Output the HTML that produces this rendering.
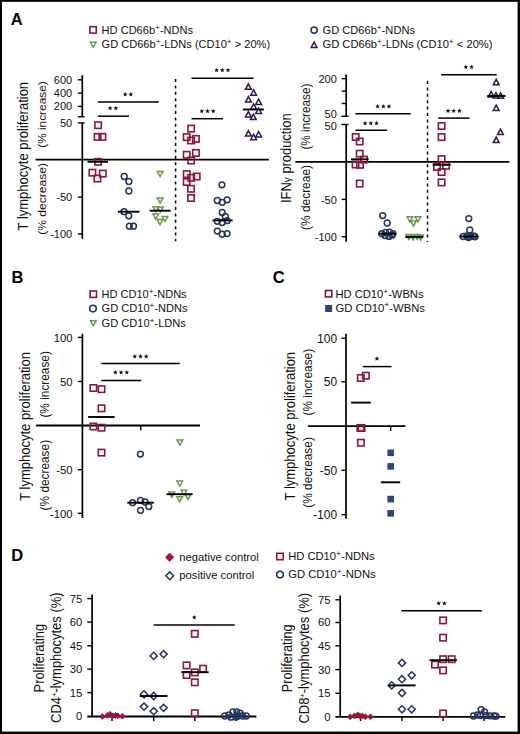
<!DOCTYPE html>
<html><head><meta charset="utf-8"><style>
html,body{margin:0;padding:0;background:#fff;}
svg{display:block;}
text{font-family:"Liberation Sans", sans-serif;}
</style></head><body>
<svg width="520" height="734" viewBox="0 0 520 734">
<rect width="520" height="734" fill="#fff"/>
<rect x="0" y="0" width="520" height="1.8" fill="#000"/><rect x="0" y="0" width="2" height="734" fill="#000"/><rect x="517.6" y="0" width="2.4" height="734" fill="#000"/><rect x="0" y="731.6" width="520" height="2.4" fill="#000"/>
<text x="10.8" y="25.2" font-size="16.5" font-weight="bold" text-anchor="start" fill="#000" >A</text>
<rect x="89.9" y="26.7" width="6.4" height="6.4" fill="none" stroke="#8a1738" stroke-width="1.6"/>
<text x="101.6" y="33.8" font-size="10.7" font-weight="normal" text-anchor="start" fill="#111" textLength="91.5" lengthAdjust="spacingAndGlyphs" >HD CD66b<tspan font-size="8" dy="-4.2">+</tspan><tspan dy="4.2">-NDNs</tspan></text>
<polygon points="90.4,42.3 96,42.3 93.2,47.3" fill="none" stroke="#67984a" stroke-width="1.5" stroke-linejoin="miter"/>
<text x="101.6" y="48.3" font-size="10.7" font-weight="normal" text-anchor="start" fill="#111" textLength="168.5" lengthAdjust="spacingAndGlyphs" >GD CD66b<tspan font-size="8" dy="-4.2">+</tspan><tspan dy="4.2">-LDNs (CD10</tspan><tspan font-size="8" dy="-4.2">+</tspan><tspan dy="4.2"> &gt; 20%)</tspan></text>
<circle cx="314.1" cy="30.1" r="3.1" fill="none" stroke="#22365e" stroke-width="1.6"/>
<text x="322.5" y="33.8" font-size="10.7" font-weight="normal" text-anchor="start" fill="#111" textLength="92.5" lengthAdjust="spacingAndGlyphs" >GD CD66b<tspan font-size="8" dy="-4.2">+</tspan><tspan dy="4.2">-NDNs</tspan></text>
<polygon points="311.2,47.5 317,47.5 314.1,42.1" fill="none" stroke="#33194f" stroke-width="1.5" stroke-linejoin="miter"/>
<text x="322.5" y="48.3" font-size="10.7" font-weight="normal" text-anchor="start" fill="#111" textLength="170" lengthAdjust="spacingAndGlyphs" >GD CD66b<tspan font-size="8" dy="-4.2">+</tspan><tspan dy="4.2">-LDNs (CD10</tspan><tspan font-size="8" dy="-4.2">+</tspan><tspan dy="4.2"> &lt; 20%)</tspan></text>
<text transform="translate(27.5,230.4) rotate(-90)" font-size="14" text-anchor="start" fill="#111" textLength="148.5" lengthAdjust="spacingAndGlyphs">T lymphocyte proliferation</text>
<text transform="translate(46.2,147.8) rotate(-90)" font-size="11.7" text-anchor="start" fill="#111" textLength="66.5" lengthAdjust="spacingAndGlyphs">(% increase)</text>
<text transform="translate(46.2,234.8) rotate(-90)" font-size="11.7" text-anchor="start" fill="#111" textLength="71.8" lengthAdjust="spacingAndGlyphs">(% decrease)</text>
<line x1="82.3" y1="75.2" x2="82.3" y2="116.8" stroke="#000" stroke-width="1.7" />
<line x1="82.3" y1="122.9" x2="82.3" y2="238.8" stroke="#000" stroke-width="1.7" />
<line x1="77.8" y1="79.8" x2="82.3" y2="79.8" stroke="#000" stroke-width="1.4" />
<line x1="77.8" y1="93.1" x2="82.3" y2="93.1" stroke="#000" stroke-width="1.4" />
<line x1="77.8" y1="106.4" x2="82.3" y2="106.4" stroke="#000" stroke-width="1.4" />
<line x1="77.9" y1="116.8" x2="84.6" y2="116.8" stroke="#000" stroke-width="1.4" />
<line x1="77.9" y1="122.9" x2="84.6" y2="122.9" stroke="#000" stroke-width="1.4" />
<line x1="77.8" y1="197.1" x2="82.3" y2="197.1" stroke="#000" stroke-width="1.4" />
<line x1="77.8" y1="234" x2="82.3" y2="234" stroke="#000" stroke-width="1.4" />
<text x="72.2" y="83.56" font-size="11" font-weight="normal" text-anchor="end" fill="#111" >600</text>
<text x="72.2" y="96.86" font-size="11" font-weight="normal" text-anchor="end" fill="#111" >400</text>
<text x="72.2" y="110.36" font-size="11" font-weight="normal" text-anchor="end" fill="#111" >200</text>
<text x="72.2" y="126.76" font-size="11" font-weight="normal" text-anchor="end" fill="#111" >50</text>
<text x="72.2" y="201.16" font-size="11" font-weight="normal" text-anchor="end" fill="#111" >-50</text>
<text x="72.2" y="237.96" font-size="11" font-weight="normal" text-anchor="end" fill="#111" >-100</text>
<line x1="35.6" y1="159.7" x2="268.9" y2="159.7" stroke="#000" stroke-width="1.8" />
<line x1="175.6" y1="79" x2="175.6" y2="241.2" stroke="#000" stroke-width="1.5" stroke-dasharray="3 3.4"/>
<line x1="97.9" y1="101.9" x2="158.8" y2="101.9" stroke="#000" stroke-width="1.5" />
<polygon points="125.15,91.9 125.8,93.51 127.53,93.63 126.2,94.74 126.62,96.42 125.15,95.5 123.68,96.42 124.1,94.74 122.77,93.63 124.5,93.51" fill="#111"/>
<polygon points="130.85,91.9 131.5,93.51 133.23,93.63 131.9,94.74 132.32,96.42 130.85,95.5 129.38,96.42 129.8,94.74 128.47,93.63 130.2,93.51" fill="#111"/>
<line x1="97.9" y1="116.2" x2="129" y2="116.2" stroke="#000" stroke-width="1.5" />
<polygon points="110.15,105.7 110.8,107.31 112.53,107.43 111.2,108.54 111.62,110.22 110.15,109.3 108.68,110.22 109.1,108.54 107.77,107.43 109.5,107.31" fill="#111"/>
<polygon points="115.85,105.7 116.5,107.31 118.23,107.43 116.9,108.54 117.32,110.22 115.85,109.3 114.38,110.22 114.8,108.54 113.47,107.43 115.2,107.31" fill="#111"/>
<line x1="191.5" y1="78.2" x2="253.6" y2="78.2" stroke="#000" stroke-width="1.5" />
<polygon points="216.6,67.7 217.25,69.31 218.98,69.43 217.65,70.54 218.07,72.22 216.6,71.3 215.13,72.22 215.55,70.54 214.22,69.43 215.95,69.31" fill="#111"/>
<polygon points="222.3,67.7 222.95,69.31 224.68,69.43 223.35,70.54 223.77,72.22 222.3,71.3 220.83,72.22 221.25,70.54 219.92,69.43 221.65,69.31" fill="#111"/>
<polygon points="228,67.7 228.65,69.31 230.38,69.43 229.05,70.54 229.47,72.22 228,71.3 226.53,72.22 226.95,70.54 225.62,69.43 227.35,69.31" fill="#111"/>
<line x1="191.5" y1="118.7" x2="222.9" y2="118.7" stroke="#000" stroke-width="1.5" />
<polygon points="201.8,108.7 202.45,110.31 204.18,110.43 202.85,111.54 203.27,113.22 201.8,112.3 200.33,113.22 200.75,111.54 199.42,110.43 201.15,110.31" fill="#111"/>
<polygon points="207.5,108.7 208.15,110.31 209.88,110.43 208.55,111.54 208.97,113.22 207.5,112.3 206.03,113.22 206.45,111.54 205.12,110.43 206.85,110.31" fill="#111"/>
<polygon points="213.2,108.7 213.85,110.31 215.58,110.43 214.25,111.54 214.67,113.22 213.2,112.3 211.73,113.22 212.15,111.54 210.82,110.43 212.55,110.31" fill="#111"/>
<rect x="94.9" y="122" width="6.4" height="6.4" fill="none" stroke="#8a1738" stroke-width="1.6"/>
<rect x="94.4" y="133.7" width="6.4" height="6.4" fill="none" stroke="#8a1738" stroke-width="1.6"/>
<rect x="99.2" y="133.7" width="6.4" height="6.4" fill="none" stroke="#8a1738" stroke-width="1.6"/>
<rect x="94.9" y="158.6" width="6.4" height="6.4" fill="none" stroke="#8a1738" stroke-width="1.6"/>
<rect x="89.2" y="169.5" width="6.4" height="6.4" fill="none" stroke="#8a1738" stroke-width="1.6"/>
<rect x="99.6" y="170.4" width="6.4" height="6.4" fill="none" stroke="#8a1738" stroke-width="1.6"/>
<rect x="94.2" y="175.3" width="6.4" height="6.4" fill="none" stroke="#8a1738" stroke-width="1.6"/>
<line x1="87.5" y1="161.8" x2="108" y2="161.8" stroke="#000" stroke-width="1.9" />
<circle cx="124.2" cy="176.5" r="2.9" fill="none" stroke="#22365e" stroke-width="1.5"/>
<circle cx="128.9" cy="181.5" r="2.9" fill="none" stroke="#22365e" stroke-width="1.5"/>
<circle cx="128.9" cy="191" r="2.9" fill="none" stroke="#22365e" stroke-width="1.5"/>
<circle cx="124" cy="211.7" r="2.9" fill="none" stroke="#22365e" stroke-width="1.5"/>
<circle cx="128.8" cy="215.8" r="2.9" fill="none" stroke="#22365e" stroke-width="1.5"/>
<circle cx="129.4" cy="226.2" r="2.9" fill="none" stroke="#22365e" stroke-width="1.5"/>
<circle cx="133.5" cy="226.2" r="2.9" fill="none" stroke="#22365e" stroke-width="1.5"/>
<line x1="117.9" y1="211.7" x2="139.5" y2="211.7" stroke="#000" stroke-width="1.9" />
<polygon points="157.3,171.5 162.9,171.5 160.1,176.5" fill="none" stroke="#67984a" stroke-width="1.5" stroke-linejoin="miter"/>
<polygon points="157.3,198.1 162.9,198.1 160.1,203.1" fill="none" stroke="#67984a" stroke-width="1.5" stroke-linejoin="miter"/>
<polygon points="153,206.7 158.6,206.7 155.8,211.7" fill="none" stroke="#67984a" stroke-width="1.5" stroke-linejoin="miter"/>
<polygon points="157.5,206.9 163.1,206.9 160.3,211.9" fill="none" stroke="#67984a" stroke-width="1.5" stroke-linejoin="miter"/>
<polygon points="153,214.1 158.6,214.1 155.8,219.1" fill="none" stroke="#67984a" stroke-width="1.5" stroke-linejoin="miter"/>
<polygon points="162.2,216.5 167.8,216.5 165,221.5" fill="none" stroke="#67984a" stroke-width="1.5" stroke-linejoin="miter"/>
<polygon points="157.2,219.6 162.8,219.6 160,224.6" fill="none" stroke="#67984a" stroke-width="1.5" stroke-linejoin="miter"/>
<line x1="149.6" y1="210.7" x2="170.6" y2="210.7" stroke="#000" stroke-width="1.9" />
<rect x="187.9" y="125.4" width="6.4" height="6.4" fill="none" stroke="#8a1738" stroke-width="1.6"/>
<rect x="183.5" y="133.9" width="6.4" height="6.4" fill="none" stroke="#8a1738" stroke-width="1.6"/>
<rect x="187.9" y="137.3" width="6.4" height="6.4" fill="none" stroke="#8a1738" stroke-width="1.6"/>
<rect x="192.7" y="135.7" width="6.4" height="6.4" fill="none" stroke="#8a1738" stroke-width="1.6"/>
<rect x="183.5" y="151.6" width="6.4" height="6.4" fill="none" stroke="#8a1738" stroke-width="1.6"/>
<rect x="192.7" y="149.7" width="6.4" height="6.4" fill="none" stroke="#8a1738" stroke-width="1.6"/>
<rect x="187.9" y="157.3" width="6.4" height="6.4" fill="none" stroke="#8a1738" stroke-width="1.6"/>
<rect x="183.5" y="170.9" width="6.4" height="6.4" fill="none" stroke="#8a1738" stroke-width="1.6"/>
<rect x="193.5" y="173.3" width="6.4" height="6.4" fill="none" stroke="#8a1738" stroke-width="1.6"/>
<rect x="188" y="174.6" width="6.4" height="6.4" fill="none" stroke="#8a1738" stroke-width="1.6"/>
<rect x="183.5" y="178.8" width="6.4" height="6.4" fill="none" stroke="#8a1738" stroke-width="1.6"/>
<rect x="187.8" y="185.6" width="6.4" height="6.4" fill="none" stroke="#8a1738" stroke-width="1.6"/>
<rect x="187.8" y="194.8" width="6.4" height="6.4" fill="none" stroke="#8a1738" stroke-width="1.6"/>
<line x1="181" y1="165" x2="201.5" y2="165" stroke="#8a1738" stroke-width="1.6" stroke-opacity="0"/>
<circle cx="221.9" cy="184.8" r="2.9" fill="none" stroke="#22365e" stroke-width="1.5"/>
<circle cx="217.3" cy="200.5" r="2.9" fill="none" stroke="#22365e" stroke-width="1.5"/>
<circle cx="222.2" cy="202.3" r="2.9" fill="none" stroke="#22365e" stroke-width="1.5"/>
<circle cx="227.1" cy="199.8" r="2.9" fill="none" stroke="#22365e" stroke-width="1.5"/>
<circle cx="222.2" cy="212.5" r="2.9" fill="none" stroke="#22365e" stroke-width="1.5"/>
<circle cx="225.3" cy="216.4" r="2.9" fill="none" stroke="#22365e" stroke-width="1.5"/>
<circle cx="217.3" cy="221.3" r="2.9" fill="none" stroke="#22365e" stroke-width="1.5"/>
<circle cx="222.2" cy="222.5" r="2.9" fill="none" stroke="#22365e" stroke-width="1.5"/>
<circle cx="227.1" cy="220.7" r="2.9" fill="none" stroke="#22365e" stroke-width="1.5"/>
<circle cx="217.3" cy="231.1" r="2.9" fill="none" stroke="#22365e" stroke-width="1.5"/>
<circle cx="222.2" cy="234.2" r="2.9" fill="none" stroke="#22365e" stroke-width="1.5"/>
<circle cx="227.1" cy="233.6" r="2.9" fill="none" stroke="#22365e" stroke-width="1.5"/>
<line x1="212.4" y1="220.4" x2="232.6" y2="220.4" stroke="#000" stroke-width="1.9" />
<polygon points="245.5,89.3 251.3,89.3 248.4,83.9" fill="none" stroke="#33194f" stroke-width="1.5" stroke-linejoin="miter"/>
<polygon points="250.7,95.2 256.5,95.2 253.6,89.8" fill="none" stroke="#33194f" stroke-width="1.5" stroke-linejoin="miter"/>
<polygon points="245.5,102.1 251.3,102.1 248.4,96.7" fill="none" stroke="#33194f" stroke-width="1.5" stroke-linejoin="miter"/>
<polygon points="255.7,104.6 261.5,104.6 258.6,99.2" fill="none" stroke="#33194f" stroke-width="1.5" stroke-linejoin="miter"/>
<polygon points="250.7,109.2 256.5,109.2 253.6,103.8" fill="none" stroke="#33194f" stroke-width="1.5" stroke-linejoin="miter"/>
<polygon points="255.7,113.4 261.5,113.4 258.6,108" fill="none" stroke="#33194f" stroke-width="1.5" stroke-linejoin="miter"/>
<polygon points="245.5,117 251.3,117 248.4,111.6" fill="none" stroke="#33194f" stroke-width="1.5" stroke-linejoin="miter"/>
<polygon points="250.4,119.6 256.2,119.6 253.3,114.2" fill="none" stroke="#33194f" stroke-width="1.5" stroke-linejoin="miter"/>
<polygon points="245.5,136.1 251.3,136.1 248.4,130.7" fill="none" stroke="#33194f" stroke-width="1.5" stroke-linejoin="miter"/>
<polygon points="250.7,139.7 256.5,139.7 253.6,134.3" fill="none" stroke="#33194f" stroke-width="1.5" stroke-linejoin="miter"/>
<polygon points="255.7,137 261.5,137 258.6,131.6" fill="none" stroke="#33194f" stroke-width="1.5" stroke-linejoin="miter"/>
<line x1="242.9" y1="109.5" x2="263.9" y2="109.5" stroke="#000" stroke-width="1.9" />
<text transform="translate(291.4,203) rotate(-90)" font-size="14" text-anchor="start" fill="#111" textLength="89.6" lengthAdjust="spacingAndGlyphs">IFN<tspan font-size="11">&#947;</tspan> production</text>
<text transform="translate(309.7,149.6) rotate(-90)" font-size="11.9" text-anchor="start" fill="#111" textLength="66" lengthAdjust="spacingAndGlyphs">(% increase)</text>
<text transform="translate(309.7,230) rotate(-90)" font-size="11.9" text-anchor="start" fill="#111" textLength="65" lengthAdjust="spacingAndGlyphs">(% decreae)</text>
<line x1="346.2" y1="74.4" x2="346.2" y2="116.3" stroke="#000" stroke-width="1.7" />
<line x1="346.2" y1="124.5" x2="346.2" y2="241.7" stroke="#000" stroke-width="1.7" />
<line x1="341.7" y1="78.7" x2="346.2" y2="78.7" stroke="#000" stroke-width="1.4" />
<line x1="341.7" y1="91.1" x2="346.2" y2="91.1" stroke="#000" stroke-width="1.4" />
<line x1="341.7" y1="103.5" x2="346.2" y2="103.5" stroke="#000" stroke-width="1.4" />
<line x1="341.4" y1="116.3" x2="348.5" y2="116.3" stroke="#000" stroke-width="1.4" />
<line x1="341.4" y1="124.5" x2="348.5" y2="124.5" stroke="#000" stroke-width="1.4" />
<line x1="341.7" y1="199.4" x2="346.2" y2="199.4" stroke="#000" stroke-width="1.4" />
<line x1="341.7" y1="236.8" x2="346.2" y2="236.8" stroke="#000" stroke-width="1.4" />
<text x="336.8" y="82.86" font-size="11" font-weight="normal" text-anchor="end" fill="#111" >200</text>
<text x="336.8" y="117.66" font-size="11" font-weight="normal" text-anchor="end" fill="#111" >50</text>
<text x="336.8" y="130.26" font-size="11" font-weight="normal" text-anchor="end" fill="#111" >50</text>
<text x="336.8" y="203.56" font-size="11" font-weight="normal" text-anchor="end" fill="#111" >-50</text>
<text x="336.8" y="240.76" font-size="11" font-weight="normal" text-anchor="end" fill="#111" >-100</text>
<line x1="295.4" y1="161.8" x2="509.4" y2="161.8" stroke="#000" stroke-width="1.8" />
<line x1="427.5" y1="81" x2="427.5" y2="242" stroke="#000" stroke-width="1.5" stroke-dasharray="3 3.4"/>
<line x1="355.5" y1="113.8" x2="410.8" y2="113.8" stroke="#000" stroke-width="1.5" />
<polygon points="377.6,103.9 378.25,105.51 379.98,105.63 378.65,106.74 379.07,108.42 377.6,107.5 376.13,108.42 376.55,106.74 375.22,105.63 376.95,105.51" fill="#111"/>
<polygon points="383.3,103.9 383.95,105.51 385.68,105.63 384.35,106.74 384.77,108.42 383.3,107.5 381.83,108.42 382.25,106.74 380.92,105.63 382.65,105.51" fill="#111"/>
<polygon points="389,103.9 389.65,105.51 391.38,105.63 390.05,106.74 390.47,108.42 389,107.5 387.53,108.42 387.95,106.74 386.62,105.63 388.35,105.51" fill="#111"/>
<line x1="355.6" y1="130.3" x2="387.1" y2="130.3" stroke="#000" stroke-width="1.5" />
<polygon points="365.1,120.8 365.75,122.41 367.48,122.53 366.15,123.64 366.57,125.32 365.1,124.4 363.63,125.32 364.05,123.64 362.72,122.53 364.45,122.41" fill="#111"/>
<polygon points="370.8,120.8 371.45,122.41 373.18,122.53 371.85,123.64 372.27,125.32 370.8,124.4 369.33,125.32 369.75,123.64 368.42,122.53 370.15,122.41" fill="#111"/>
<polygon points="376.5,120.8 377.15,122.41 378.88,122.53 377.55,123.64 377.97,125.32 376.5,124.4 375.03,125.32 375.45,123.64 374.12,122.53 375.85,122.41" fill="#111"/>
<line x1="441.2" y1="74.7" x2="496.7" y2="74.7" stroke="#000" stroke-width="1.5" />
<polygon points="465.85,64.6 466.5,66.21 468.23,66.33 466.9,67.44 467.32,69.12 465.85,68.2 464.38,69.12 464.8,67.44 463.47,66.33 465.2,66.21" fill="#111"/>
<polygon points="471.55,64.6 472.2,66.21 473.93,66.33 472.6,67.44 473.02,69.12 471.55,68.2 470.08,69.12 470.5,67.44 469.17,66.33 470.9,66.21" fill="#111"/>
<line x1="438.3" y1="118.1" x2="469.6" y2="118.1" stroke="#000" stroke-width="1.5" />
<polygon points="448,108.5 448.65,110.11 450.38,110.23 449.05,111.34 449.47,113.02 448,112.1 446.53,113.02 446.95,111.34 445.62,110.23 447.35,110.11" fill="#111"/>
<polygon points="453.7,108.5 454.35,110.11 456.08,110.23 454.75,111.34 455.17,113.02 453.7,112.1 452.23,113.02 452.65,111.34 451.32,110.23 453.05,110.11" fill="#111"/>
<polygon points="459.4,108.5 460.05,110.11 461.78,110.23 460.45,111.34 460.87,113.02 459.4,112.1 457.93,113.02 458.35,111.34 457.02,110.23 458.75,110.11" fill="#111"/>
<rect x="352.5" y="133.8" width="6.4" height="6.4" fill="none" stroke="#8a1738" stroke-width="1.6"/>
<rect x="356.5" y="138.3" width="6.4" height="6.4" fill="none" stroke="#8a1738" stroke-width="1.6"/>
<rect x="356.5" y="150.5" width="6.4" height="6.4" fill="none" stroke="#8a1738" stroke-width="1.6"/>
<rect x="360.9" y="156.4" width="6.4" height="6.4" fill="none" stroke="#8a1738" stroke-width="1.6"/>
<rect x="352.4" y="161.3" width="6.4" height="6.4" fill="none" stroke="#8a1738" stroke-width="1.6"/>
<rect x="356.8" y="161.6" width="6.4" height="6.4" fill="none" stroke="#8a1738" stroke-width="1.6"/>
<rect x="356.5" y="180.4" width="6.4" height="6.4" fill="none" stroke="#8a1738" stroke-width="1.6"/>
<line x1="351" y1="159.3" x2="368.6" y2="159.3" stroke="#000" stroke-width="1.9" />
<circle cx="382.7" cy="215.6" r="2.9" fill="none" stroke="#22365e" stroke-width="1.5"/>
<circle cx="387.2" cy="223" r="2.9" fill="none" stroke="#22365e" stroke-width="1.5"/>
<circle cx="381.8" cy="233.7" r="2.9" fill="none" stroke="#22365e" stroke-width="1.5"/>
<circle cx="385.5" cy="232.4" r="2.9" fill="none" stroke="#22365e" stroke-width="1.5"/>
<circle cx="389.5" cy="232.2" r="2.9" fill="none" stroke="#22365e" stroke-width="1.5"/>
<circle cx="393" cy="233.7" r="2.9" fill="none" stroke="#22365e" stroke-width="1.5"/>
<circle cx="385" cy="235.6" r="2.9" fill="none" stroke="#22365e" stroke-width="1.5"/>
<circle cx="389" cy="236.4" r="2.9" fill="none" stroke="#22365e" stroke-width="1.5"/>
<circle cx="392" cy="235.2" r="2.9" fill="none" stroke="#22365e" stroke-width="1.5"/>
<line x1="378.1" y1="233.7" x2="396" y2="233.7" stroke="#000" stroke-width="1.9" />
<polygon points="407,216.8 412.6,216.8 409.8,221.8" fill="none" stroke="#67984a" stroke-width="1.5" stroke-linejoin="miter"/>
<polygon points="415.1,216.8 420.7,216.8 417.9,221.8" fill="none" stroke="#67984a" stroke-width="1.5" stroke-linejoin="miter"/>
<polygon points="410.7,221.1 416.3,221.1 413.5,226.1" fill="none" stroke="#67984a" stroke-width="1.5" stroke-linejoin="miter"/>
<polygon points="406,234.5 411.6,234.5 408.8,239.5" fill="none" stroke="#67984a" stroke-width="1.5" stroke-linejoin="miter"/>
<polygon points="410.2,234.9 415.8,234.9 413,239.9" fill="none" stroke="#67984a" stroke-width="1.5" stroke-linejoin="miter"/>
<polygon points="414.4,234.5 420,234.5 417.2,239.5" fill="none" stroke="#67984a" stroke-width="1.5" stroke-linejoin="miter"/>
<polygon points="417.7,234.9 423.3,234.9 420.5,239.9" fill="none" stroke="#67984a" stroke-width="1.5" stroke-linejoin="miter"/>
<line x1="405.2" y1="236.9" x2="423.3" y2="236.9" stroke="#000" stroke-width="1.9" />
<rect x="438.4" y="122.8" width="6.4" height="6.4" fill="none" stroke="#8a1738" stroke-width="1.6"/>
<rect x="438.4" y="133.9" width="6.4" height="6.4" fill="none" stroke="#8a1738" stroke-width="1.6"/>
<rect x="438.4" y="155.9" width="6.4" height="6.4" fill="none" stroke="#8a1738" stroke-width="1.6"/>
<rect x="433.8" y="163.8" width="6.4" height="6.4" fill="none" stroke="#8a1738" stroke-width="1.6"/>
<rect x="442.8" y="162.6" width="6.4" height="6.4" fill="none" stroke="#8a1738" stroke-width="1.6"/>
<rect x="438.4" y="168.8" width="6.4" height="6.4" fill="none" stroke="#8a1738" stroke-width="1.6"/>
<rect x="438.4" y="179.2" width="6.4" height="6.4" fill="none" stroke="#8a1738" stroke-width="1.6"/>
<line x1="432.6" y1="164.8" x2="450.7" y2="164.8" stroke="#000" stroke-width="1.9" />
<circle cx="468.8" cy="218.6" r="2.9" fill="none" stroke="#22365e" stroke-width="1.5"/>
<circle cx="469.8" cy="230" r="2.9" fill="none" stroke="#22365e" stroke-width="1.5"/>
<circle cx="463.2" cy="236.5" r="2.9" fill="none" stroke="#22365e" stroke-width="1.5"/>
<circle cx="466.8" cy="236" r="2.9" fill="none" stroke="#22365e" stroke-width="1.5"/>
<circle cx="470.2" cy="236.6" r="2.9" fill="none" stroke="#22365e" stroke-width="1.5"/>
<circle cx="473.6" cy="236" r="2.9" fill="none" stroke="#22365e" stroke-width="1.5"/>
<circle cx="475" cy="236.8" r="2.9" fill="none" stroke="#22365e" stroke-width="1.5"/>
<circle cx="468.5" cy="237.5" r="2.9" fill="none" stroke="#22365e" stroke-width="1.5"/>
<line x1="459.2" y1="236.5" x2="478.1" y2="236.5" stroke="#000" stroke-width="1.9" />
<polygon points="493.3,84.8 499.1,84.8 496.2,79.4" fill="none" stroke="#33194f" stroke-width="1.5" stroke-linejoin="miter"/>
<polygon points="488.3,97 494.1,97 491.2,91.6" fill="none" stroke="#33194f" stroke-width="1.5" stroke-linejoin="miter"/>
<polygon points="493.1,97.9 498.9,97.9 496,92.5" fill="none" stroke="#33194f" stroke-width="1.5" stroke-linejoin="miter"/>
<polygon points="497.7,98.2 503.5,98.2 500.6,92.8" fill="none" stroke="#33194f" stroke-width="1.5" stroke-linejoin="miter"/>
<polygon points="493.3,110.5 499.1,110.5 496.2,105.1" fill="none" stroke="#33194f" stroke-width="1.5" stroke-linejoin="miter"/>
<polygon points="497.5,134.6 503.3,134.6 500.4,129.2" fill="none" stroke="#33194f" stroke-width="1.5" stroke-linejoin="miter"/>
<polygon points="493.3,142.6 499.1,142.6 496.2,137.2" fill="none" stroke="#33194f" stroke-width="1.5" stroke-linejoin="miter"/>
<line x1="487.2" y1="96" x2="505.5" y2="96" stroke="#000" stroke-width="1.9" />
<text x="11.6" y="282.7" font-size="16.5" font-weight="bold" text-anchor="start" fill="#000" >B</text>
<rect x="90.1" y="291" width="6.4" height="6.4" fill="none" stroke="#8a1738" stroke-width="1.6"/>
<text x="101.6" y="298" font-size="10.7" font-weight="normal" text-anchor="start" fill="#111" textLength="85" lengthAdjust="spacingAndGlyphs" >HD CD10<tspan font-size="8" dy="-4.2">+</tspan><tspan dy="4.2">-NDNs</tspan></text>
<circle cx="93" cy="308.6" r="3.3" fill="none" stroke="#22365e" stroke-width="1.6"/>
<text x="101.6" y="312.3" font-size="10.7" font-weight="normal" text-anchor="start" fill="#111" textLength="86" lengthAdjust="spacingAndGlyphs" >GD CD10<tspan font-size="8" dy="-4.2">+</tspan><tspan dy="4.2">-NDNs</tspan></text>
<polygon points="90.5,320.8 96.1,320.8 93.3,325.8" fill="none" stroke="#67984a" stroke-width="1.5" stroke-linejoin="miter"/>
<text x="101.6" y="326.7" font-size="10.7" font-weight="normal" text-anchor="start" fill="#111" textLength="84.3" lengthAdjust="spacingAndGlyphs" >GD CD10<tspan font-size="8" dy="-4.2">+</tspan><tspan dy="4.2">-LDNs</tspan></text>
<text transform="translate(30.2,500.8) rotate(-90)" font-size="14" text-anchor="start" fill="#111" textLength="148.8" lengthAdjust="spacingAndGlyphs">T lymphocyte proliferation</text>
<text transform="translate(49,417.6) rotate(-90)" font-size="12" text-anchor="start" fill="#111" textLength="66.5" lengthAdjust="spacingAndGlyphs">(% increase)</text>
<text transform="translate(49,510.4) rotate(-90)" font-size="12" text-anchor="start" fill="#111" textLength="70.5" lengthAdjust="spacingAndGlyphs">(% decrease)</text>
<line x1="82.4" y1="333.8" x2="82.4" y2="517.9" stroke="#000" stroke-width="1.7" />
<line x1="77.9" y1="337.4" x2="82.4" y2="337.4" stroke="#000" stroke-width="1.4" />
<line x1="77.9" y1="381.5" x2="82.4" y2="381.5" stroke="#000" stroke-width="1.4" />
<line x1="77.9" y1="469.7" x2="82.4" y2="469.7" stroke="#000" stroke-width="1.4" />
<line x1="77.9" y1="513.3" x2="82.4" y2="513.3" stroke="#000" stroke-width="1.4" />
<text x="72.6" y="342.07" font-size="11.3" font-weight="normal" text-anchor="end" fill="#111" >100</text>
<text x="72.6" y="386.27" font-size="11.3" font-weight="normal" text-anchor="end" fill="#111" >50</text>
<text x="72.6" y="474.47" font-size="11.3" font-weight="normal" text-anchor="end" fill="#111" >-50</text>
<text x="72.6" y="518.17" font-size="11.3" font-weight="normal" text-anchor="end" fill="#111" >-100</text>
<line x1="36.2" y1="425.5" x2="200" y2="425.5" stroke="#000" stroke-width="1.8" />
<line x1="140.8" y1="425.5" x2="140.8" y2="430.4" stroke="#000" stroke-width="1.4" />
<line x1="101.2" y1="363.5" x2="179.7" y2="363.5" stroke="#000" stroke-width="1.5" />
<polygon points="134.8,353.9 135.45,355.51 137.18,355.63 135.85,356.74 136.27,358.42 134.8,357.5 133.33,358.42 133.75,356.74 132.42,355.63 134.15,355.51" fill="#111"/>
<polygon points="140.5,353.9 141.15,355.51 142.88,355.63 141.55,356.74 141.97,358.42 140.5,357.5 139.03,358.42 139.45,356.74 138.12,355.63 139.85,355.51" fill="#111"/>
<polygon points="146.2,353.9 146.85,355.51 148.58,355.63 147.25,356.74 147.67,358.42 146.2,357.5 144.73,358.42 145.15,356.74 143.82,355.63 145.55,355.51" fill="#111"/>
<line x1="101.2" y1="380.4" x2="141.2" y2="380.4" stroke="#000" stroke-width="1.5" />
<polygon points="115.4,370 116.05,371.61 117.78,371.73 116.45,372.84 116.87,374.52 115.4,373.6 113.93,374.52 114.35,372.84 113.02,371.73 114.75,371.61" fill="#111"/>
<polygon points="121.1,370 121.75,371.61 123.48,371.73 122.15,372.84 122.57,374.52 121.1,373.6 119.63,374.52 120.05,372.84 118.72,371.73 120.45,371.61" fill="#111"/>
<polygon points="126.8,370 127.45,371.61 129.18,371.73 127.85,372.84 128.27,374.52 126.8,373.6 125.33,374.52 125.75,372.84 124.42,371.73 126.15,371.61" fill="#111"/>
<rect x="90.2" y="384.8" width="6.4" height="6.4" fill="none" stroke="#8a1738" stroke-width="1.6"/>
<rect x="98.3" y="386" width="6.4" height="6.4" fill="none" stroke="#8a1738" stroke-width="1.6"/>
<rect x="98.3" y="405.1" width="6.4" height="6.4" fill="none" stroke="#8a1738" stroke-width="1.6"/>
<rect x="90.2" y="423.3" width="6.4" height="6.4" fill="none" stroke="#8a1738" stroke-width="1.6"/>
<rect x="98.3" y="424.5" width="6.4" height="6.4" fill="none" stroke="#8a1738" stroke-width="1.6"/>
<rect x="98.3" y="449.4" width="6.4" height="6.4" fill="none" stroke="#8a1738" stroke-width="1.6"/>
<line x1="88.1" y1="417" x2="114.6" y2="417" stroke="#000" stroke-width="1.9" />
<circle cx="140.4" cy="454.1" r="2.9" fill="none" stroke="#22365e" stroke-width="1.5"/>
<circle cx="132.6" cy="502.7" r="2.9" fill="none" stroke="#22365e" stroke-width="1.5"/>
<circle cx="140.5" cy="500.4" r="2.9" fill="none" stroke="#22365e" stroke-width="1.5"/>
<circle cx="145.1" cy="502" r="2.9" fill="none" stroke="#22365e" stroke-width="1.5"/>
<circle cx="148.8" cy="506.6" r="2.9" fill="none" stroke="#22365e" stroke-width="1.5"/>
<circle cx="140.5" cy="510.3" r="2.9" fill="none" stroke="#22365e" stroke-width="1.5"/>
<line x1="127.3" y1="502.7" x2="153.8" y2="502.7" stroke="#000" stroke-width="1.9" />
<polygon points="177.1,440.1 182.7,440.1 179.9,445.1" fill="none" stroke="#67984a" stroke-width="1.5" stroke-linejoin="miter"/>
<polygon points="176.9,481 182.5,481 179.7,486" fill="none" stroke="#67984a" stroke-width="1.5" stroke-linejoin="miter"/>
<polygon points="169,492.1 174.6,492.1 171.8,497.1" fill="none" stroke="#67984a" stroke-width="1.5" stroke-linejoin="miter"/>
<polygon points="181.1,490.3 186.7,490.3 183.9,495.3" fill="none" stroke="#67984a" stroke-width="1.5" stroke-linejoin="miter"/>
<polygon points="176.9,496.7 182.5,496.7 179.7,501.7" fill="none" stroke="#67984a" stroke-width="1.5" stroke-linejoin="miter"/>
<polygon points="185.2,494.4 190.8,494.4 188,499.4" fill="none" stroke="#67984a" stroke-width="1.5" stroke-linejoin="miter"/>
<line x1="166.5" y1="494.2" x2="192.6" y2="494.2" stroke="#000" stroke-width="1.9" />
<text x="272.8" y="282.6" font-size="16.5" font-weight="bold" text-anchor="start" fill="#000" >C</text>
<rect x="325.4" y="290.5" width="6.4" height="6.4" fill="none" stroke="#8a1738" stroke-width="1.6"/>
<text x="335.5" y="297.7" font-size="10.7" font-weight="normal" text-anchor="start" fill="#111" textLength="88" lengthAdjust="spacingAndGlyphs" >HD CD10<tspan font-size="8" dy="-4.2">+</tspan><tspan dy="4.2">-WBNs</tspan></text>
<rect x="325.1" y="305" width="7" height="7" fill="#2b4778"/>
<text x="335.5" y="311.5" font-size="10.7" font-weight="normal" text-anchor="start" fill="#111" textLength="89.5" lengthAdjust="spacingAndGlyphs" >GD CD10<tspan font-size="8" dy="-4.2">+</tspan><tspan dy="4.2">-WBNs</tspan></text>
<text transform="translate(294.6,500.4) rotate(-90)" font-size="14.8" text-anchor="start" fill="#111" textLength="148.5" lengthAdjust="spacingAndGlyphs">T lymphocyte proliferation</text>
<text transform="translate(312.4,415.4) rotate(-90)" font-size="12.3" text-anchor="start" fill="#111" textLength="66.5" lengthAdjust="spacingAndGlyphs">(% increase)</text>
<text transform="translate(312.4,507.8) rotate(-90)" font-size="12.3" text-anchor="start" fill="#111" textLength="70.7" lengthAdjust="spacingAndGlyphs">(% decrease)</text>
<line x1="346" y1="333.8" x2="346" y2="518.7" stroke="#000" stroke-width="1.7" />
<line x1="341.5" y1="338.2" x2="346" y2="338.2" stroke="#000" stroke-width="1.4" />
<line x1="341.5" y1="381.8" x2="346" y2="381.8" stroke="#000" stroke-width="1.4" />
<line x1="341.5" y1="470.3" x2="346" y2="470.3" stroke="#000" stroke-width="1.4" />
<line x1="341.5" y1="514.7" x2="346" y2="514.7" stroke="#000" stroke-width="1.4" />
<text x="337.1" y="342.72" font-size="12" font-weight="normal" text-anchor="end" fill="#111" >100</text>
<text x="337.1" y="386.32" font-size="12" font-weight="normal" text-anchor="end" fill="#111" >50</text>
<text x="337.1" y="474.82" font-size="12" font-weight="normal" text-anchor="end" fill="#111" >-50</text>
<text x="337.1" y="518.92" font-size="12" font-weight="normal" text-anchor="end" fill="#111" >-100</text>
<line x1="308.1" y1="426.1" x2="405.4" y2="426.1" stroke="#000" stroke-width="1.8" />
<line x1="390.7" y1="426.1" x2="390.7" y2="430.9" stroke="#000" stroke-width="1.4" />
<line x1="362.8" y1="366.6" x2="391.5" y2="366.6" stroke="#000" stroke-width="1.5" />
<polygon points="376.9,356.2 377.55,357.81 379.28,357.93 377.95,359.04 378.37,360.72 376.9,359.8 375.43,360.72 375.85,359.04 374.52,357.93 376.25,357.81" fill="#111"/>
<rect x="357.6" y="374.8" width="6.4" height="6.4" fill="none" stroke="#8a1738" stroke-width="1.6"/>
<rect x="362.6" y="372.5" width="6.4" height="6.4" fill="none" stroke="#8a1738" stroke-width="1.6"/>
<rect x="357.2" y="424.8" width="6.4" height="6.4" fill="none" stroke="#8a1738" stroke-width="1.6"/>
<rect x="358.4" y="424.8" width="6.4" height="6.4" fill="none" stroke="#8a1738" stroke-width="1.6"/>
<rect x="357.7" y="439.5" width="6.4" height="6.4" fill="none" stroke="#8a1738" stroke-width="1.6"/>
<line x1="351.1" y1="402.6" x2="370.8" y2="402.6" stroke="#000" stroke-width="1.9" />
<rect x="387.4" y="449.5" width="6.6" height="6.6" fill="#2b4778"/>
<rect x="387.4" y="463.1" width="6.6" height="6.6" fill="#2b4778"/>
<rect x="387.4" y="495.8" width="6.6" height="6.6" fill="#2b4778"/>
<rect x="387.4" y="510" width="6.6" height="6.6" fill="#2b4778"/>
<line x1="380.9" y1="482.3" x2="400.2" y2="482.3" stroke="#000" stroke-width="1.9" />
<text x="11.3" y="561.2" font-size="16.5" font-weight="bold" text-anchor="start" fill="#000" >D</text>
<polygon points="169.6,553 173.9,557.3 169.6,561.6 165.3,557.3" fill="#a0173a" stroke="#a0173a" stroke-width="0.6"/>
<text x="179.3" y="561" font-size="10.4" font-weight="normal" text-anchor="start" fill="#111" textLength="79.5" lengthAdjust="spacingAndGlyphs" >negative control</text>
<polygon points="169.8,571.9 173.7,575.8 169.8,579.7 165.9,575.8" fill="none" stroke="#22365e" stroke-width="1.5"/>
<text x="179.3" y="579" font-size="10.4" font-weight="normal" text-anchor="start" fill="#111" textLength="75" lengthAdjust="spacingAndGlyphs" >positive control</text>
<rect x="276.8" y="553.3" width="6.4" height="6.4" fill="none" stroke="#8a1738" stroke-width="1.6"/>
<text x="288.2" y="560.2" font-size="10.2" font-weight="normal" text-anchor="start" fill="#111" textLength="86.5" lengthAdjust="spacingAndGlyphs" >HD CD10<tspan font-size="8" dy="-4.2">+</tspan><tspan dy="4.2">-NDNs</tspan></text>
<circle cx="280" cy="574.6" r="3.3" fill="none" stroke="#22365e" stroke-width="1.6"/>
<text x="288.2" y="578.2" font-size="10.2" font-weight="normal" text-anchor="start" fill="#111" textLength="87.5" lengthAdjust="spacingAndGlyphs" >GD CD10<tspan font-size="8" dy="-4.2">+</tspan><tspan dy="4.2">-NDNs</tspan></text>
<text transform="translate(43.8,692.4) rotate(-90)" font-size="14.3" text-anchor="start" fill="#111" textLength="68.5" lengthAdjust="spacingAndGlyphs">Proliferating</text>
<text transform="translate(60.9,722.9) rotate(-90)" font-size="14" text-anchor="start" fill="#111" textLength="130.5" lengthAdjust="spacingAndGlyphs">CD4<tspan font-size="8" dy="-4.2">+</tspan><tspan dy="4.2">-lymphocytes (%)</tspan></text>
<line x1="92.1" y1="594.4" x2="92.1" y2="716.5" stroke="#000" stroke-width="1.7" />
<line x1="87.3" y1="598.6" x2="92.1" y2="598.6" stroke="#000" stroke-width="1.4" />
<line x1="87.3" y1="622.1" x2="92.1" y2="622.1" stroke="#000" stroke-width="1.4" />
<line x1="87.3" y1="645.8" x2="92.1" y2="645.8" stroke="#000" stroke-width="1.4" />
<line x1="87.3" y1="669.1" x2="92.1" y2="669.1" stroke="#000" stroke-width="1.4" />
<line x1="87.3" y1="692.6" x2="92.1" y2="692.6" stroke="#000" stroke-width="1.4" />
<text x="82.4" y="602.5" font-size="10.9" font-weight="normal" text-anchor="end" fill="#111" textLength="12.6" lengthAdjust="spacingAndGlyphs" >75</text>
<text x="82.4" y="626" font-size="10.9" font-weight="normal" text-anchor="end" fill="#111" textLength="12.6" lengthAdjust="spacingAndGlyphs" >60</text>
<text x="82.4" y="649.7" font-size="10.9" font-weight="normal" text-anchor="end" fill="#111" textLength="12.6" lengthAdjust="spacingAndGlyphs" >45</text>
<text x="82.4" y="673" font-size="10.9" font-weight="normal" text-anchor="end" fill="#111" textLength="12.6" lengthAdjust="spacingAndGlyphs" >30</text>
<text x="82.4" y="696.5" font-size="10.9" font-weight="normal" text-anchor="end" fill="#111" textLength="12.6" lengthAdjust="spacingAndGlyphs" >15</text>
<text x="82.4" y="720.4" font-size="10.9" font-weight="normal" text-anchor="end" fill="#111" textLength="6.3" lengthAdjust="spacingAndGlyphs" >0</text>
<line x1="87.3" y1="716.5" x2="256.4" y2="716.5" stroke="#000" stroke-width="1.8" />
<line x1="112" y1="716.5" x2="112" y2="721" stroke="#000" stroke-width="1.4" />
<line x1="153.7" y1="716.5" x2="153.7" y2="721" stroke="#000" stroke-width="1.4" />
<line x1="194.8" y1="716.5" x2="194.8" y2="721" stroke="#000" stroke-width="1.4" />
<line x1="236" y1="716.5" x2="236" y2="721" stroke="#000" stroke-width="1.4" />
<line x1="153.7" y1="625" x2="234.7" y2="625" stroke="#000" stroke-width="1.5" />
<polygon points="194.3,614.9 194.95,616.51 196.68,616.63 195.35,617.74 195.77,619.42 194.3,618.5 192.83,619.42 193.25,617.74 191.92,616.63 193.65,616.51" fill="#111"/>
<polygon points="102.3,713.5 105.3,716.5 102.3,719.5 99.3,716.5" fill="#951637" stroke="#951637" stroke-width="0.6"/>
<polygon points="107.3,712.4 110.3,715.4 107.3,718.4 104.3,715.4" fill="#951637" stroke="#951637" stroke-width="0.6"/>
<polygon points="110,711.2 113,714.2 110,717.2 107,714.2" fill="#951637" stroke="#951637" stroke-width="0.6"/>
<polygon points="112.7,712.8 115.7,715.8 112.7,718.8 109.7,715.8" fill="#951637" stroke="#951637" stroke-width="0.6"/>
<polygon points="115.4,712.4 118.4,715.4 115.4,718.4 112.4,715.4" fill="#951637" stroke="#951637" stroke-width="0.6"/>
<polygon points="117.7,712.8 120.7,715.8 117.7,718.8 114.7,715.8" fill="#951637" stroke="#951637" stroke-width="0.6"/>
<polygon points="122.3,713.2 125.3,716.2 122.3,719.2 119.3,716.2" fill="#951637" stroke="#951637" stroke-width="0.6"/>
<polygon points="153.7,652.3 157.3,655.9 153.7,659.5 150.1,655.9" fill="none" stroke="#22365e" stroke-width="1.5"/>
<polygon points="163.6,650.5 167.2,654.1 163.6,657.7 160,654.1" fill="none" stroke="#22365e" stroke-width="1.5"/>
<polygon points="144,690.7 147.6,694.3 144,697.9 140.4,694.3" fill="none" stroke="#22365e" stroke-width="1.5"/>
<polygon points="153.7,692.4 157.3,696 153.7,699.6 150.1,696" fill="none" stroke="#22365e" stroke-width="1.5"/>
<polygon points="144,703 147.6,706.6 144,710.2 140.4,706.6" fill="none" stroke="#22365e" stroke-width="1.5"/>
<polygon points="153.7,707.6 157.3,711.2 153.7,714.8 150.1,711.2" fill="none" stroke="#22365e" stroke-width="1.5"/>
<polygon points="163.6,704.2 167.2,707.8 163.6,711.4 160,707.8" fill="none" stroke="#22365e" stroke-width="1.5"/>
<line x1="139.8" y1="696" x2="167.5" y2="696" stroke="#000" stroke-width="1.9" />
<rect x="191.6" y="630.6" width="6.4" height="6.4" fill="none" stroke="#8a1738" stroke-width="1.6"/>
<rect x="183.4" y="662.2" width="6.4" height="6.4" fill="none" stroke="#8a1738" stroke-width="1.6"/>
<rect x="199.9" y="665.5" width="6.4" height="6.4" fill="none" stroke="#8a1738" stroke-width="1.6"/>
<rect x="191.6" y="669.2" width="6.4" height="6.4" fill="none" stroke="#8a1738" stroke-width="1.6"/>
<rect x="183.4" y="671.8" width="6.4" height="6.4" fill="none" stroke="#8a1738" stroke-width="1.6"/>
<rect x="191.6" y="679.1" width="6.4" height="6.4" fill="none" stroke="#8a1738" stroke-width="1.6"/>
<rect x="191.6" y="710" width="6.4" height="6.4" fill="none" stroke="#8a1738" stroke-width="1.6"/>
<line x1="181.4" y1="672.2" x2="208.6" y2="672.2" stroke="#000" stroke-width="1.9" />
<circle cx="224.8" cy="716" r="2.9" fill="none" stroke="#22365e" stroke-width="1.5"/>
<circle cx="228.9" cy="715" r="2.9" fill="none" stroke="#22365e" stroke-width="1.5"/>
<circle cx="233" cy="712" r="2.9" fill="none" stroke="#22365e" stroke-width="1.5"/>
<circle cx="236.8" cy="711.8" r="2.9" fill="none" stroke="#22365e" stroke-width="1.5"/>
<circle cx="240.2" cy="713.2" r="2.9" fill="none" stroke="#22365e" stroke-width="1.5"/>
<circle cx="238" cy="716" r="2.9" fill="none" stroke="#22365e" stroke-width="1.5"/>
<circle cx="242.6" cy="716" r="2.9" fill="none" stroke="#22365e" stroke-width="1.5"/>
<circle cx="246.3" cy="716" r="2.9" fill="none" stroke="#22365e" stroke-width="1.5"/>
<circle cx="236" cy="717" r="2.9" fill="none" stroke="#22365e" stroke-width="1.5"/>
<circle cx="231" cy="717.2" r="2.9" fill="none" stroke="#22365e" stroke-width="1.5"/>
<text transform="translate(292.2,692.2) rotate(-90)" font-size="14.3" text-anchor="start" fill="#111" textLength="67.8" lengthAdjust="spacingAndGlyphs">Proliferating</text>
<text transform="translate(309.3,723.6) rotate(-90)" font-size="14" text-anchor="start" fill="#111" textLength="130.8" lengthAdjust="spacingAndGlyphs">CD8<tspan font-size="8" dy="-4.2">+</tspan><tspan dy="4.2">-lymphocytes (%)</tspan></text>
<line x1="340.2" y1="595.5" x2="340.2" y2="716.8" stroke="#000" stroke-width="1.7" />
<line x1="335.4" y1="599.8" x2="340.2" y2="599.8" stroke="#000" stroke-width="1.4" />
<line x1="335.4" y1="622.5" x2="340.2" y2="622.5" stroke="#000" stroke-width="1.4" />
<line x1="335.4" y1="645.8" x2="340.2" y2="645.8" stroke="#000" stroke-width="1.4" />
<line x1="335.4" y1="669.6" x2="340.2" y2="669.6" stroke="#000" stroke-width="1.4" />
<line x1="335.4" y1="693.3" x2="340.2" y2="693.3" stroke="#000" stroke-width="1.4" />
<text x="330.5" y="603.7" font-size="10.9" font-weight="normal" text-anchor="end" fill="#111" textLength="12.6" lengthAdjust="spacingAndGlyphs" >75</text>
<text x="330.5" y="626.4" font-size="10.9" font-weight="normal" text-anchor="end" fill="#111" textLength="12.6" lengthAdjust="spacingAndGlyphs" >60</text>
<text x="330.5" y="649.7" font-size="10.9" font-weight="normal" text-anchor="end" fill="#111" textLength="12.6" lengthAdjust="spacingAndGlyphs" >45</text>
<text x="330.5" y="673.5" font-size="10.9" font-weight="normal" text-anchor="end" fill="#111" textLength="12.6" lengthAdjust="spacingAndGlyphs" >30</text>
<text x="330.5" y="697.2" font-size="10.9" font-weight="normal" text-anchor="end" fill="#111" textLength="12.6" lengthAdjust="spacingAndGlyphs" >15</text>
<text x="330.5" y="720.7" font-size="10.9" font-weight="normal" text-anchor="end" fill="#111" textLength="6.3" lengthAdjust="spacingAndGlyphs" >0</text>
<line x1="335.4" y1="716.8" x2="505.3" y2="716.8" stroke="#000" stroke-width="1.7" />
<line x1="360.5" y1="716.8" x2="360.5" y2="721" stroke="#000" stroke-width="1.4" />
<line x1="402" y1="716.8" x2="402" y2="721" stroke="#000" stroke-width="1.4" />
<line x1="443.1" y1="716.8" x2="443.1" y2="721" stroke="#000" stroke-width="1.4" />
<line x1="484" y1="716.8" x2="484" y2="721" stroke="#000" stroke-width="1.4" />
<line x1="401.4" y1="610.8" x2="481.9" y2="610.8" stroke="#000" stroke-width="1.5" />
<polygon points="438.65,600.8 439.3,602.41 441.03,602.53 439.7,603.64 440.12,605.32 438.65,604.4 437.18,605.32 437.6,603.64 436.27,602.53 438,602.41" fill="#111"/>
<polygon points="444.35,600.8 445,602.41 446.73,602.53 445.4,603.64 445.82,605.32 444.35,604.4 442.88,605.32 443.3,603.64 441.97,602.53 443.7,602.41" fill="#111"/>
<polygon points="350.2,713.8 353.2,716.8 350.2,719.8 347.2,716.8" fill="#951637" stroke="#951637" stroke-width="0.6"/>
<polygon points="354.4,713 357.4,716 354.4,719 351.4,716" fill="#951637" stroke="#951637" stroke-width="0.6"/>
<polygon points="357.9,711.8 360.9,714.8 357.9,717.8 354.9,714.8" fill="#951637" stroke="#951637" stroke-width="0.6"/>
<polygon points="360.2,713.3 363.2,716.3 360.2,719.3 357.2,716.3" fill="#951637" stroke="#951637" stroke-width="0.6"/>
<polygon points="362.5,713 365.5,716 362.5,719 359.5,716" fill="#951637" stroke="#951637" stroke-width="0.6"/>
<polygon points="365.4,713.8 368.4,716.8 365.4,719.8 362.4,716.8" fill="#951637" stroke="#951637" stroke-width="0.6"/>
<polygon points="370.6,713.8 373.6,716.8 370.6,719.8 367.6,716.8" fill="#951637" stroke="#951637" stroke-width="0.6"/>
<polygon points="402,659.3 405.6,662.9 402,666.5 398.4,662.9" fill="none" stroke="#22365e" stroke-width="1.5"/>
<polygon points="411.7,671.7 415.3,675.3 411.7,678.9 408.1,675.3" fill="none" stroke="#22365e" stroke-width="1.5"/>
<polygon points="402,675.6 405.6,679.2 402,682.8 398.4,679.2" fill="none" stroke="#22365e" stroke-width="1.5"/>
<polygon points="391.7,681.8 395.3,685.4 391.7,689 388.1,685.4" fill="none" stroke="#22365e" stroke-width="1.5"/>
<polygon points="402,689.4 405.6,693 402,696.6 398.4,693" fill="none" stroke="#22365e" stroke-width="1.5"/>
<polygon points="402,705.7 405.6,709.3 402,712.9 398.4,709.3" fill="none" stroke="#22365e" stroke-width="1.5"/>
<polygon points="411.7,705.7 415.3,709.3 411.7,712.9 408.1,709.3" fill="none" stroke="#22365e" stroke-width="1.5"/>
<line x1="388.2" y1="685.4" x2="415.6" y2="685.4" stroke="#000" stroke-width="1.9" />
<rect x="439.9" y="617.2" width="6.4" height="6.4" fill="none" stroke="#8a1738" stroke-width="1.6"/>
<rect x="439.9" y="634.5" width="6.4" height="6.4" fill="none" stroke="#8a1738" stroke-width="1.6"/>
<rect x="439.9" y="656" width="6.4" height="6.4" fill="none" stroke="#8a1738" stroke-width="1.6"/>
<rect x="448.5" y="656" width="6.4" height="6.4" fill="none" stroke="#8a1738" stroke-width="1.6"/>
<rect x="431.8" y="661.4" width="6.4" height="6.4" fill="none" stroke="#8a1738" stroke-width="1.6"/>
<rect x="439.9" y="667.2" width="6.4" height="6.4" fill="none" stroke="#8a1738" stroke-width="1.6"/>
<rect x="439.9" y="710.3" width="6.4" height="6.4" fill="none" stroke="#8a1738" stroke-width="1.6"/>
<line x1="429.6" y1="660.2" x2="456.9" y2="660.2" stroke="#000" stroke-width="1.9" />
<circle cx="473.5" cy="716" r="2.9" fill="none" stroke="#22365e" stroke-width="1.5"/>
<circle cx="477.5" cy="714.8" r="2.9" fill="none" stroke="#22365e" stroke-width="1.5"/>
<circle cx="481.2" cy="709.6" r="2.9" fill="none" stroke="#22365e" stroke-width="1.5"/>
<circle cx="484.6" cy="711.8" r="2.9" fill="none" stroke="#22365e" stroke-width="1.5"/>
<circle cx="480.5" cy="715.5" r="2.9" fill="none" stroke="#22365e" stroke-width="1.5"/>
<circle cx="486" cy="715.5" r="2.9" fill="none" stroke="#22365e" stroke-width="1.5"/>
<circle cx="490" cy="715.8" r="2.9" fill="none" stroke="#22365e" stroke-width="1.5"/>
<circle cx="494" cy="716" r="2.9" fill="none" stroke="#22365e" stroke-width="1.5"/>
<circle cx="496" cy="716.2" r="2.9" fill="none" stroke="#22365e" stroke-width="1.5"/>
</svg>
</body></html>
